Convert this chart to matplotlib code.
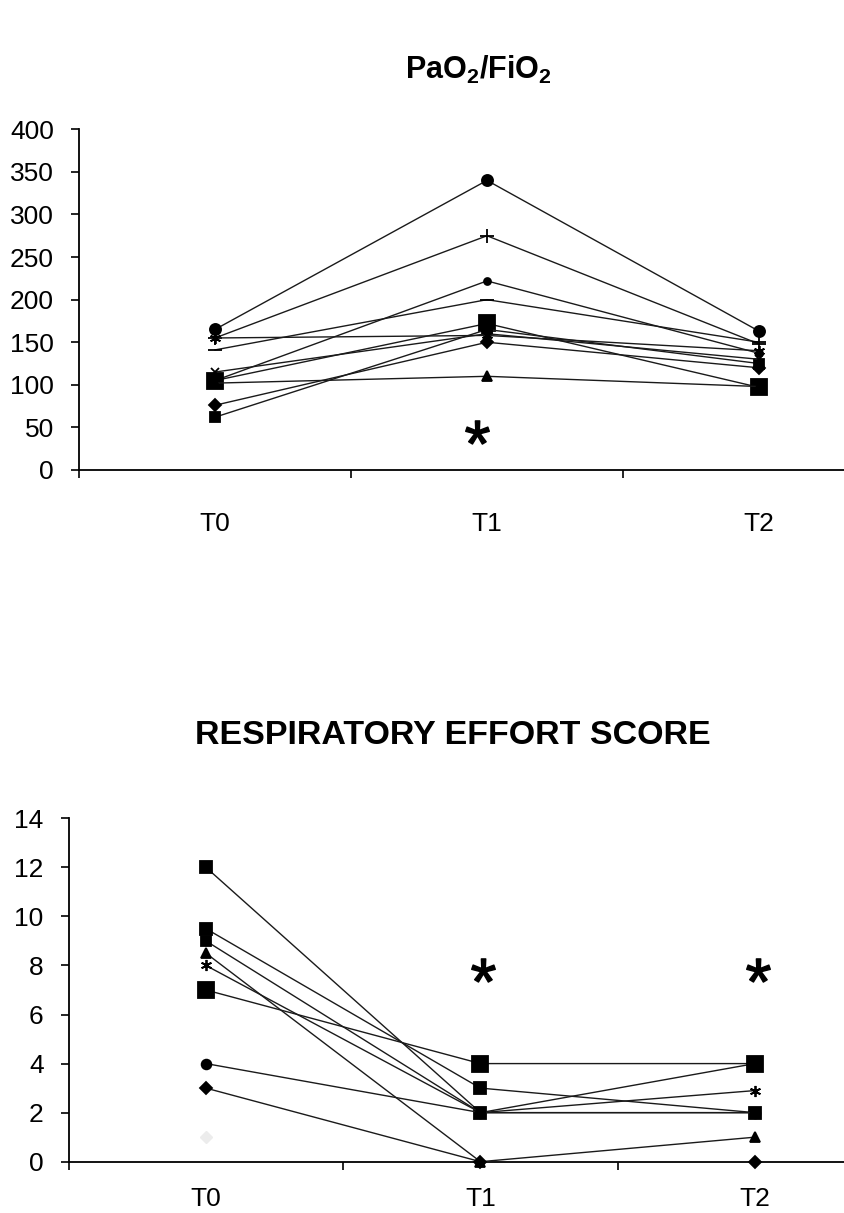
import numpy as np
import matplotlib
matplotlib.use("Agg")
import matplotlib.pyplot as plt

plt.rcParams["font.family"] = ["Liberation Sans", "DejaVu Sans"]
plt.rcParams["mathtext.fontset"] = "custom"
plt.rcParams["mathtext.rm"] = "Liberation Sans"
plt.rcParams["mathtext.bf"] = "Liberation Sans:bold"

time_points = ["T0", "T1", "T2"]

# PaO2/FiO2 per patient at T0, T1, T2
pao2_fio2 = [
    [165, 340, 163],
    [155, 275, 148],
    [141, 200, 150],
    [105, 222, 137],
    [105, 172, 97],
    [102, 110, 98],
    [76, 150, 120],
    [62, 165, 125],
    [115, 160, 130],
    [155, 158, 140],
]
pao2_markers = ["o", "+", "_", "o", "s", "^", "D", "s", "x", (6, 2, 0)]
pao2_sizes = [8, 10, 10, 5, 12, 7, 6, 7, 6, 8]

# Respiratory effort score per patient at T0, T1, T2
effort_score = [
    [12, 2, 4],
    [9.5, 3, 2],
    [9, 2, 2],
    [8.5, 0, 1],
    [8, 2, 2.9],
    [7, 4, 4],
    [4, 2, 2],
    [3, 0, 0],
]
effort_markers = ["s", "s", "s", "^", (6, 2, 0), "s", "o", "D"]
effort_sizes = [8, 8, 7, 7, 8, 12, 7, 6]
faint_point = 1.0  # single faint observation at T0

# significance marks (category index, value)
pao2_sig = [(1, 45)]
effort_sig = [(1, 7.8), (2, 7.8)]

W, H = 844, 1213
fig = plt.figure(figsize=(W / 100, H / 100), dpi=100)


def setup_axes(ax, ymax, ystep, label_pad):
    ax.set_xlim(0, 3)
    ax.set_ylim(0, ymax)
    ax.set_yticks(np.arange(0, ymax + ystep / 2, ystep))
    ax.set_xticks([0, 1, 2, 3])
    ax.set_xticklabels([])
    ax.set_xticks([0.5, 1.5, 2.5], minor=True)
    ax.set_xticklabels(time_points, minor=True, fontsize=19)
    ax.tick_params(axis="x", which="minor", length=0, pad=label_pad)
    ax.tick_params(axis="x", which="major", length=6, width=1.2, direction="out")
    ax.tick_params(axis="y", length=6, width=1.2, direction="out", pad=12)
    for lab in ax.get_yticklabels():
        lab.set_fontsize(19)
    for s in ("top", "right"):
        ax.spines[s].set_visible(False)
    for s in ("left", "bottom"):
        ax.spines[s].set_linewidth(1.3)
    ax.patch.set_alpha(0)


xs = np.array([0.5, 1.5, 2.5])

# Top panel
ax1 = fig.add_axes([79 / W, 1 - 470 / H, 816 / W, 340.7 / H])
setup_axes(ax1, 400, 50, 30)
for vals, m, ms in zip(pao2_fio2, pao2_markers, pao2_sizes):
    ax1.plot(xs, vals, color="#1a1a1a", lw=1.0, marker=m, ms=ms,
             mfc="black", mec="black", mew=1.3, clip_on=False, zorder=3)
for ci, v in pao2_sig:
    ax1.plot(xs[ci] - 0.035, v, marker=r"$*$", ms=17, color="black", ls="none")
fig.text(478 / W, 1 - 70 / H, r"$\mathbf{PaO_2/FiO_2}$", ha="center", va="center",
         fontsize=22)

# Bottom panel
ax2 = fig.add_axes([68.7 / W, 1 - 1161.7 / H, 823.5 / W, 343.4 / H])
setup_axes(ax2, 14, 2, 18)
for vals, m, ms in zip(effort_score, effort_markers, effort_sizes):
    ax2.plot(xs, vals, color="#1a1a1a", lw=1.0, marker=m, ms=ms,
             mfc="black", mec="black", mew=1.3, clip_on=False, zorder=3)
ax2.plot(xs[0], faint_point, marker="D", ms=6, color="#ececec", ls="none",
         clip_on=False, zorder=3)
for ci, v in effort_sig:
    ax2.plot(xs[ci] + 0.01, v, marker=r"$*$", ms=17, color="black", ls="none")
fig.text(453 / W, 1 - 735 / H, "RESPIRATORY EFFORT SCORE", ha="center", va="center",
         fontsize=24.5, fontweight="bold")

fig.savefig("out.png", dpi=100, facecolor="white")
